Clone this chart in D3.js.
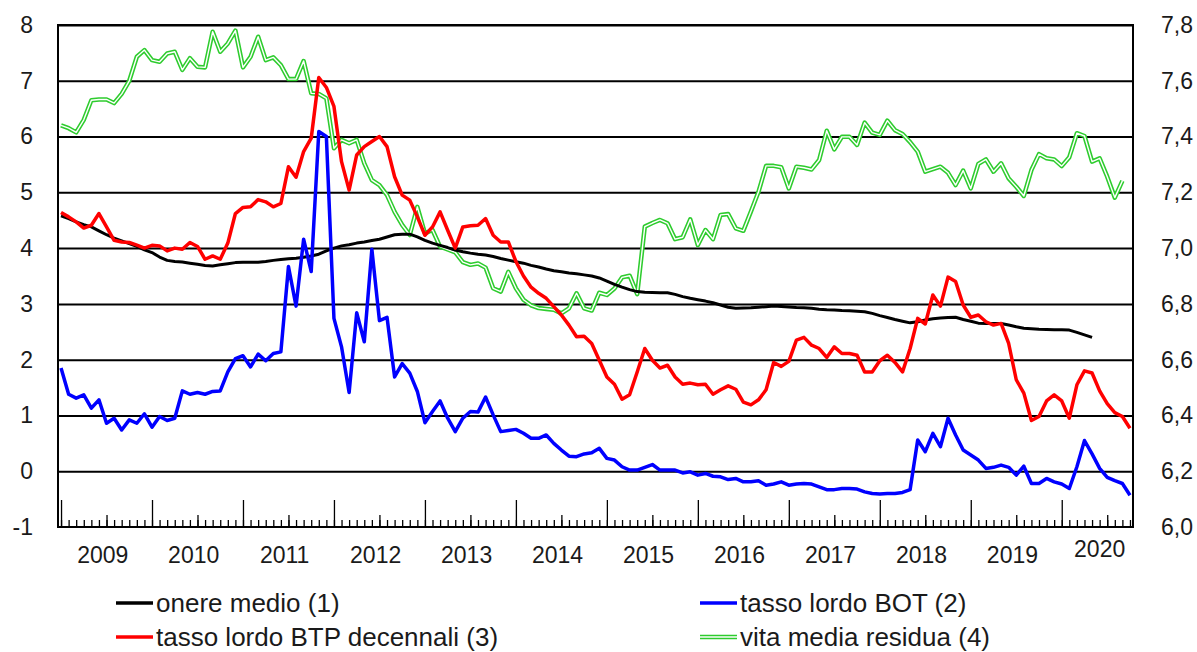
<!DOCTYPE html>
<html>
<head>
<meta charset="utf-8">
<script src="https://cdn.jsdelivr.net/npm/d3@7"></script>
<style>
  body { margin: 0; background: #fff; }
  svg text { font-family: "Liberation Sans", Arial, sans-serif; fill: #1a1a1a; }
</style>
</head>
<body>
<svg width="1197" height="652"></svg>
<script>
// monthly data, Jan 2009 - Oct 2020
const months = d3.timeMonth.range(new Date(2009, 0, 1), new Date(2020, 10, 1))
const yearLabels = ['2009', '2010', '2011', '2012', '2013', '2014', '2015', '2016', '2017', '2018', '2019', '2020']
const leftTicks = [-1, 0, 1, 2, 3, 4, 5, 6, 7, 8]
const rightTicks = [6.0, 6.2, 6.4, 6.6, 6.8, 7.0, 7.2, 7.4, 7.6, 7.8]

// (1) onere medio - left axis
const onereMedio = [
  4.58, 4.53, 4.47, 4.42, 4.38, 4.31, 4.24, 4.18, 4.13, 4.08,
  4.03, 3.97, 3.92, 3.84, 3.78, 3.76, 3.75, 3.73, 3.71, 3.69,
  3.68, 3.70, 3.72, 3.74, 3.745, 3.745, 3.745, 3.76, 3.78, 3.795,
  3.81, 3.82, 3.835, 3.86, 3.89, 3.95, 4.00, 4.04, 4.06, 4.09,
  4.11, 4.135, 4.16, 4.20, 4.24, 4.25, 4.25, 4.20, 4.14, 4.09,
  4.05, 4.01, 3.965, 3.935, 3.91, 3.89, 3.875, 3.85, 3.815, 3.785,
  3.755, 3.73, 3.69, 3.66, 3.625, 3.595, 3.575, 3.555, 3.54, 3.52,
  3.50, 3.465, 3.41, 3.35, 3.30, 3.255, 3.22, 3.21, 3.205, 3.20,
  3.20, 3.17, 3.13, 3.10, 3.075, 3.05, 3.02, 2.98, 2.94, 2.92,
  2.925, 2.93, 2.94, 2.95, 2.96, 2.955, 2.945, 2.935, 2.93, 2.92,
  2.905, 2.895, 2.89, 2.88, 2.875, 2.87, 2.86, 2.83, 2.79, 2.755,
  2.72, 2.69, 2.66, 2.68, 2.71, 2.735, 2.745, 2.755, 2.76, 2.72,
  2.69, 2.655, 2.65, 2.65, 2.65, 2.62, 2.59, 2.565, 2.555, 2.545,
  2.54, 2.535, 2.535, 2.53, 2.49, 2.445, 2.40
]

// (2) tasso lordo BOT - left axis
const tassoBot = [
  1.85, 1.38, 1.31, 1.37, 1.13, 1.28, 0.86, 0.95, 0.74, 0.92,
  0.86, 1.03, 0.79, 0.98, 0.91, 0.95, 1.44, 1.38, 1.41, 1.38,
  1.43, 1.44, 1.78, 2.02, 2.07, 1.87, 2.10, 1.98, 2.11, 2.14,
  3.67, 2.96, 4.16, 3.58, 6.09, 6.00, 2.74, 2.23, 1.41, 2.84,
  2.32, 3.98, 2.70, 2.76, 1.69, 1.93, 1.76, 1.43, 0.87, 1.07,
  1.26, 0.95, 0.71, 0.95, 1.07, 1.06, 1.33, 1.01, 0.71, 0.73,
  0.75, 0.68, 0.59, 0.59, 0.65, 0.50, 0.38, 0.27, 0.26, 0.31,
  0.33, 0.41, 0.23, 0.20, 0.08, 0.02, 0.02, 0.07, 0.12, 0.02,
  0.02, 0.02, -0.03, -0.01, -0.07, -0.04, -0.09, -0.10, -0.15, -0.13,
  -0.19, -0.19, -0.17, -0.25, -0.23, -0.19, -0.25, -0.23, -0.22, -0.23,
  -0.28, -0.33, -0.33, -0.31, -0.31, -0.32, -0.37, -0.40, -0.41, -0.40,
  -0.40, -0.38, -0.33, 0.56, 0.35, 0.68, 0.44, 0.95, 0.65, 0.38,
  0.29, 0.20, 0.05, 0.07, 0.11, 0.07, -0.07, 0.09, -0.22, -0.22,
  -0.13, -0.19, -0.23, -0.31, 0.08, 0.55, 0.31, 0.05, -0.11, -0.17,
  -0.22, -0.43
]

// (3) tasso lordo BTP decennali - left axis
const tassoBtp = [
  4.64, 4.56, 4.47, 4.36, 4.41, 4.62, 4.38, 4.14, 4.11, 4.10,
  4.055, 4.00, 4.05, 4.04, 3.95, 4.00, 3.98, 4.10, 4.03, 3.80,
  3.86, 3.80, 4.09, 4.62, 4.73, 4.74, 4.87, 4.83, 4.74, 4.80,
  5.46, 5.27, 5.73, 5.97, 7.06, 6.88, 6.54, 5.55, 5.04, 5.67,
  5.82, 5.91, 6.00, 5.82, 5.28, 4.95, 4.86, 4.56, 4.23, 4.38,
  4.65, 4.32, 4.00, 4.38, 4.40, 4.41, 4.53, 4.23, 4.11, 4.11,
  3.76, 3.50, 3.30, 3.19, 3.10, 2.95, 2.80, 2.62, 2.41, 2.42,
  2.29, 1.99, 1.69, 1.56, 1.29, 1.37, 1.78, 2.20, 1.99, 1.85,
  1.90, 1.69, 1.56, 1.58, 1.55, 1.56, 1.38, 1.46, 1.53, 1.47,
  1.24, 1.19, 1.28, 1.46, 1.95, 1.88, 1.97, 2.35, 2.40, 2.26,
  2.20, 2.04, 2.23, 2.11, 2.11, 2.08, 1.78, 1.78, 1.98, 2.08,
  1.95, 1.78, 2.20, 2.74, 2.64, 3.16, 2.96, 3.48, 3.40, 2.98,
  2.76, 2.80, 2.68, 2.62, 2.65, 2.29, 1.64, 1.40, 0.91, 0.98,
  1.26, 1.37, 1.26, 0.95, 1.55, 1.80, 1.76, 1.44, 1.21, 1.05,
  0.98, 0.77
]

// (4) vita media residua - right axis
const vitaMedia = [
  7.44, 7.43, 7.415, 7.46, 7.53, 7.533, 7.533, 7.52, 7.553, 7.60,
  7.686, 7.71, 7.674, 7.668, 7.698, 7.704, 7.639, 7.681, 7.65, 7.648,
  7.776, 7.704, 7.734, 7.78, 7.648, 7.686, 7.758, 7.674, 7.684, 7.656,
  7.606, 7.606, 7.671, 7.555, 7.553, 7.537, 7.358, 7.388, 7.376, 7.388,
  7.304, 7.244, 7.226, 7.19, 7.13, 7.083, 7.047, 7.148, 7.053, 7.065,
  7.005, 6.995, 6.985, 6.95, 6.94, 6.945, 6.93, 6.856, 6.844, 6.915,
  6.856, 6.815, 6.795, 6.785, 6.782, 6.779, 6.766, 6.784, 6.838, 6.784,
  6.776, 6.84, 6.832, 6.855, 6.895, 6.901, 6.835, 7.077, 7.09, 7.101,
  7.089, 7.032, 7.039, 7.103, 7.011, 7.065, 7.032, 7.119, 7.122, 7.071,
  7.062, 7.131, 7.202, 7.295, 7.295, 7.29, 7.214, 7.292, 7.288, 7.282,
  7.316, 7.421, 7.354, 7.399, 7.399, 7.37, 7.45, 7.414, 7.406, 7.457,
  7.423, 7.409, 7.38, 7.346, 7.274, 7.283, 7.292, 7.27, 7.226, 7.278,
  7.214, 7.302, 7.318, 7.274, 7.304, 7.25, 7.22, 7.187, 7.28, 7.337,
  7.322, 7.318, 7.294, 7.326, 7.412, 7.402, 7.31, 7.322, 7.256, 7.181,
  7.241
]

const legendItems = [
  { name: 'onere medio (1)', color: '#000', double: false, col: 0, row: 0 },
  { name: 'tasso lordo BOT (2)', color: '#0000ff', double: false, col: 1, row: 0 },
  { name: 'tasso lordo BTP decennali (3)', color: '#ff0000', double: false, col: 0, row: 1 },
  { name: 'vita media residua (4)', color: '#2ecc2e', double: true, col: 1, row: 1 }
]

const width = 1197
const height = 652
const margin = { top: 25, right: 64, bottom: 125, left: 58 }
const fontSize = 23
const legendFontSize = 26

const svg = d3.select('svg')

const x = d3.scalePoint()
  .domain(d3.range(months.length))
  .range([margin.left, width - margin.right])
  .padding(0.4)

const yLeft = d3.scaleLinear()
  .domain([-1, 8])
  .range([height - margin.bottom, margin.top])

const yRight = d3.scaleLinear()
  .domain([6.0, 7.8])
  .range([height - margin.bottom, margin.top])

// gridlines
svg.append('g')
  .attr('transform', `translate(${margin.left},0)`)
  .call(d3.axisLeft(yLeft).tickValues(leftTicks.slice(1)).tickSize(-(width - margin.left - margin.right)).tickFormat(''))
  .call(g => g.select('.domain').remove())
  .call(g => g.selectAll('line').attr('stroke', '#000').attr('stroke-width', 2))

// frame
svg.append('rect')
  .attr('x', margin.left)
  .attr('y', margin.top)
  .attr('width', width - margin.left - margin.right)
  .attr('height', height - margin.top - margin.bottom)
  .attr('fill', 'none')
  .attr('stroke', '#000')
  .attr('stroke-width', 2)

// month ticks: small every month, medium in July, long in January
const tickGroups = [
  { filter: i => true, size: 7 },
  { filter: i => months[i].getMonth() === 6, size: 12 },
  { filter: i => months[i].getMonth() === 0, size: 27 }
]
tickGroups.forEach(t => {
  svg.append('g')
    .attr('transform', `translate(0,${height - margin.bottom})`)
    .call(d3.axisBottom(x).tickValues(x.domain().filter(t.filter)).tickSize(-t.size).tickFormat(''))
    .call(g => g.select('.domain').remove())
    .call(g => g.selectAll('line').attr('stroke', '#000').attr('stroke-width', 1.3))
})

// year labels, centred in each year
svg.append('g')
  .selectAll('text')
  .data(yearLabels)
  .join('text')
  .attr('x', (d, i) => {
    if (d === '2020') return x(137)
    return (x(i * 12) + x(i * 12 + 11)) / 2
  })
  .attr('y', d => d === '2020' ? 549 : 555)
  .attr('dy', '0.35em')
  .attr('text-anchor', 'middle')
  .attr('font-size', fontSize)
  .text(d => d)

// left axis labels
svg.append('g')
  .attr('transform', `translate(${margin.left},0)`)
  .call(d3.axisLeft(yLeft).tickValues(leftTicks).tickSize(0).tickPadding(25).tickFormat(d => String(d)))
  .call(g => g.select('.domain').remove())
  .call(g => g.selectAll('text').attr('font-size', fontSize).attr('font-family', null).attr('fill', null))

// right axis labels
svg.append('g')
  .attr('transform', `translate(${width - margin.right},0)`)
  .call(d3.axisRight(yRight).tickValues(rightTicks).tickSize(0).tickPadding(28)
    .tickFormat(d => d3.format('.1f')(d).replace('.', ',')))
  .call(g => g.select('.domain').remove())
  .call(g => g.selectAll('text').attr('font-size', fontSize).attr('font-family', null).attr('fill', null))

const lineLeft = d3.line().x((d, i) => x(i)).y(d => yLeft(d))
const lineRight = d3.line().x((d, i) => x(i)).y(d => yRight(d))

const plot = svg.append('g').attr('fill', 'none').attr('stroke-linejoin', 'round')

// green double line
plot.append('path').attr('d', lineRight(vitaMedia)).attr('stroke', '#2ecc2e').attr('stroke-width', 4.5)
plot.append('path').attr('d', lineRight(vitaMedia)).attr('stroke', '#fff').attr('stroke-width', 1.4)

plot.append('path').attr('d', lineLeft(onereMedio)).attr('stroke', '#000').attr('stroke-width', 3)
plot.append('path').attr('d', lineLeft(tassoBot)).attr('stroke', '#0000ff').attr('stroke-width', 3.5)
plot.append('path').attr('d', lineLeft(tassoBtp)).attr('stroke', '#ff0000').attr('stroke-width', 3.5)

// legend
const legend = svg.append('g')
const colX = [116, 700]
const rowY = [603, 637]

const entry = legend.selectAll('g')
  .data(legendItems)
  .join('g')
  .attr('transform', d => `translate(${colX[d.col]},${rowY[d.row]})`)

entry.append('line')
  .attr('x1', 0).attr('x2', 37)
  .attr('stroke', d => d.color)
  .attr('stroke-width', d => d.double ? 4.5 : 3.5)
entry.filter(d => d.double).append('line')
  .attr('x1', 0).attr('x2', 37)
  .attr('stroke', '#fff')
  .attr('stroke-width', 1.4)

entry.append('text')
  .attr('x', 40)
  .attr('dy', '0.35em')
  .attr('font-size', legendFontSize)
  .text(d => d.name)
</script>
</body>
</html>
